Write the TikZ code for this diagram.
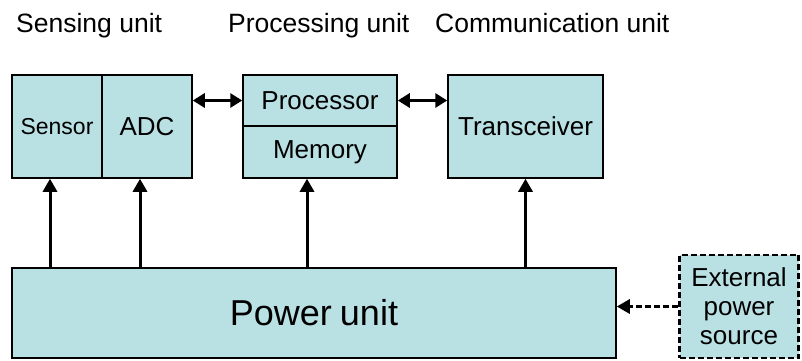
\documentclass[tikz,border=0pt]{standalone}
\usepackage{fontspec}
\setmainfont{Liberation Sans}
\usetikzlibrary{arrows.meta,positioning}
\definecolor{unitfill}{RGB}{185,224,227}
\begin{document}
\begin{tikzpicture}[
  x=1pt, y=1pt,
  unit/.style={draw, line width=1.5pt, fill=unitfill, inner sep=0pt,
    font=\fontsize{26}{29}\selectfont},
  title/.style={anchor=base west, inner sep=0pt, font=\fontsize{26.5}{30}\selectfont},
  link/.style={line width=3pt, -{Triangle[length=13pt,width=14pt]}},
  twoway/.style={line width=3pt, {Triangle[length=12pt,width=14pt]}-{Triangle[length=12pt,width=14pt]}}
]
\useasboundingbox (0,0) rectangle (802,360);
% headings
\node[title] (hsens) at (16,328) {Sensing unit};
\node[title] (hproc) at (228,328) {Processing unit};
\node[title] (hcomm) at (435,328) {Communication unit};
% units
\node[unit, minimum width=90pt, minimum height=103pt, font=\fontsize{23}{26}\selectfont] (sensor) at (57,233.5) {Sensor};
\node[unit, minimum width=90pt, minimum height=103pt] (adc) at (147,233.5) {ADC};
\node[unit, minimum width=154pt, minimum height=51pt] (proc) at (320,259.5) {Processor};
\node[unit, minimum width=154pt, minimum height=52pt] (mem) at (320,208) {Memory};
\node[unit, minimum width=155pt, minimum height=103pt] (trans) at (525.5,233.5) {Transceiver};
\node[unit, minimum width=604pt, minimum height=90pt, font=\fontsize{36}{40}\selectfont] (power) at (314,47) {Power\hspace{-2pt} unit};
\node[unit, dashed, dash pattern=on 6pt off 3pt, line width=2.2pt, minimum width=119pt, minimum height=103pt,
  align=center] (ext) at (739,53.5) {External\\power\\source};
% data links
\draw[twoway] (adc.east |- proc.west) -- (proc.west);
\draw[twoway] (proc.east) -- (proc.east -| trans.west);
% power supply
\draw[link] ([xshift=-7pt]sensor.south |- power.north) -- ([xshift=-7pt]sensor.south);
\draw[link] ([xshift=-7pt]adc.south |- power.north) -- ([xshift=-7pt]adc.south);
\draw[link] ([xshift=-13pt]mem.south |- power.north) -- ([xshift=-13pt]mem.south);
\draw[link] (trans.south |- power.north) -- (trans.south);
\draw[link, dash pattern=on 6pt off 3pt] (ext.west) -- (ext.west -| power.east);
\end{tikzpicture}
\end{document}
